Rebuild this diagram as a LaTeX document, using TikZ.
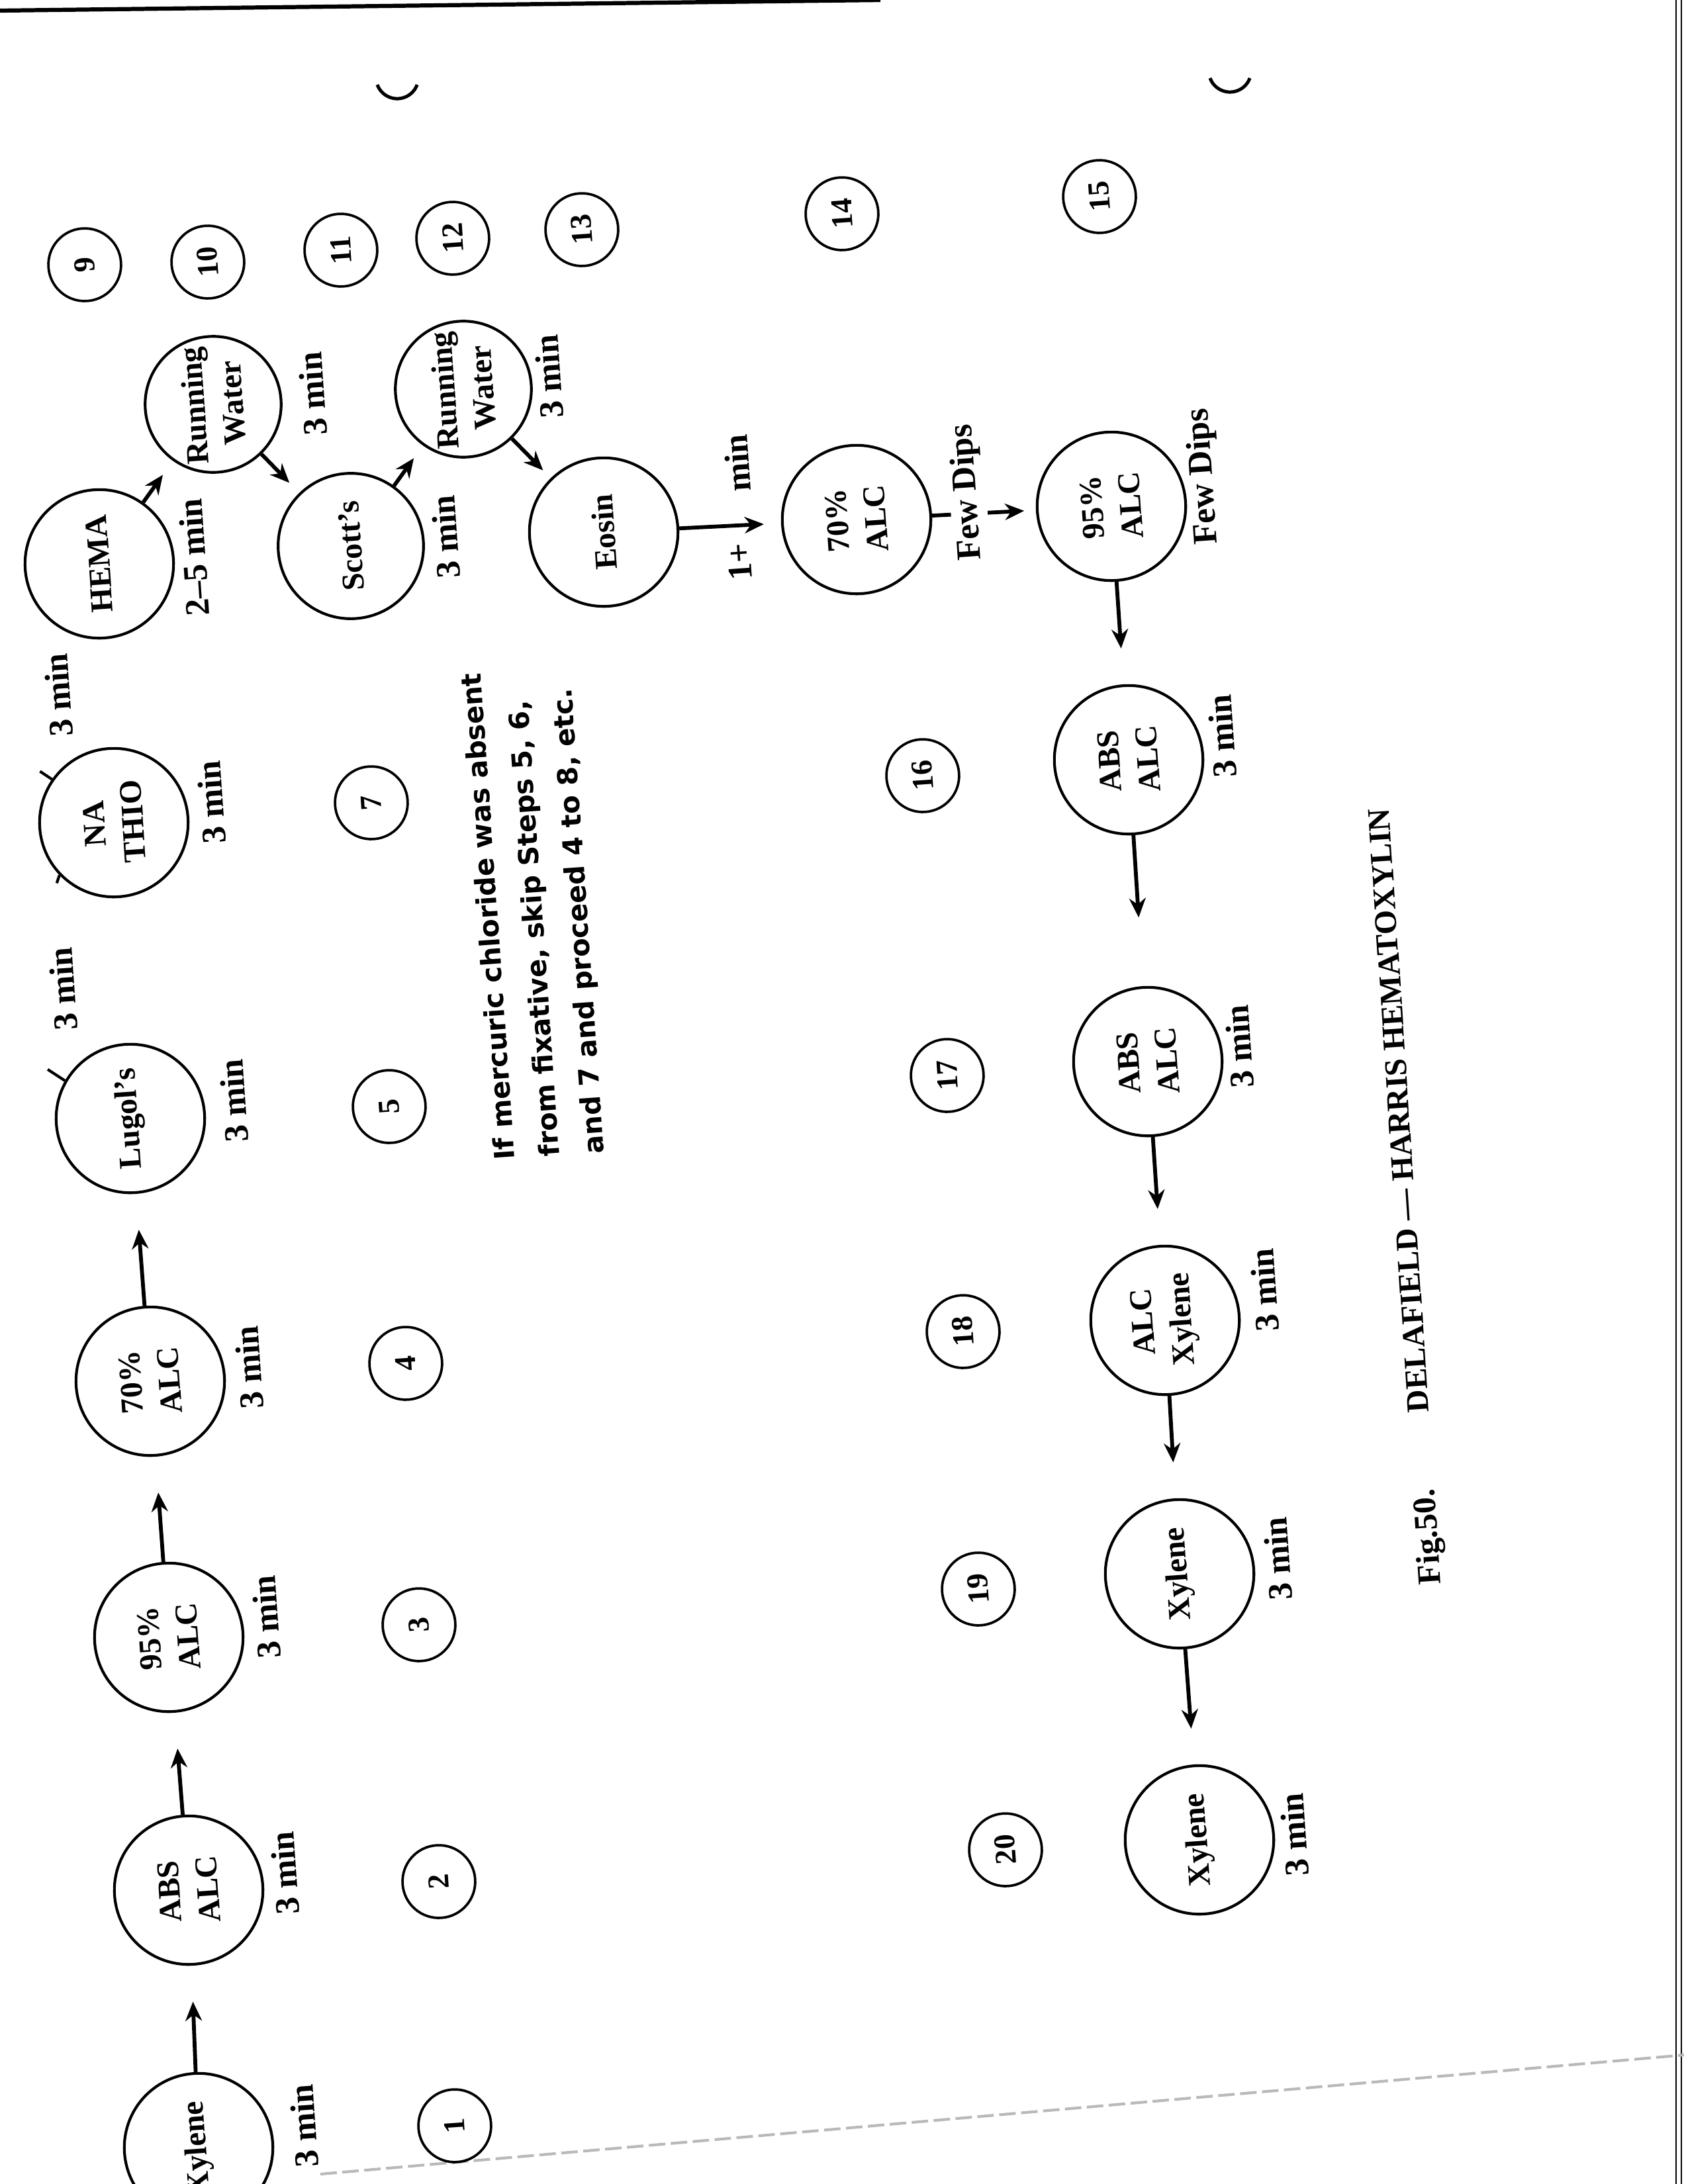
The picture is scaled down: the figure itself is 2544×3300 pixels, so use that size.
\documentclass[tikz,border=0pt]{standalone}
\usepackage{fontspec}
\setmainfont{Liberation Serif}
\newfontfamily\notefont{DejaVu Sans}
\usetikzlibrary{arrows.meta}

\begin{document}
\begin{tikzpicture}[x=0.0846667mm, y=-0.0846667mm,
    bath/.style={draw, circle, line width=1pt, minimum size=19mm, inner sep=0pt, align=center, rotate=94, font=\bfseries\fontsize{11.5}{14}\selectfont},
    stepnum/.style={draw, circle, line width=0.9pt, minimum size=9.3mm, inner sep=0pt, rotate=94, font=\bfseries\fontsize{11}{13}\selectfont},
    dur/.style={rotate=94, inner sep=1pt, font=\bfseries\fontsize{12.5}{15}\selectfont},
    flow/.style={-{Stealth[length=7pt, width=6pt]}, line width=1.4pt, shorten >=4.6mm}]
    \fill[white] (0,0) rectangle (2544,3300);
    \useasboundingbox (0,0) rectangle (2544,3300);

    % page edges of the scan
    \draw[line width=1.5pt] (0,16) -- (1330,0);
    \draw[line width=0.6pt] (2532,0) -- (2532,3300);
    \draw[line width=0.6pt] (2540,0) -- (2540,3300);
    \draw[gray!55, line width=1pt, dash pattern=on 6pt off 2pt] (484,3285) -- (2544,3105);
    \draw[line width=1.2pt] (570,128) arc[start angle=160, end angle=20, radius=32];
    \draw[line width=1.2pt] (1828,118) arc[start angle=160, end angle=20, radius=32];

    \node[bath] (xyl1) at (300,3245) {Xylene};
    \node[bath] (abs1) at (285,2856) {ABS\\ALC};
    \node[bath] (alc95a) at (255,2474) {95\%\\ALC};
    \node[bath] (alc70a) at (227,2087) {70\%\\ALC};
    \node[bath] (lugol) at (197,1690) {Lugol's};
    \node[bath] (nathio) at (172,1243) {NA\\THIO};
    \node[bath] (hema) at (150,852) {HEMA};
    \node[bath, minimum size=17.4mm] (water1) at (322,611) {Running\\Water};
    \node[bath, minimum size=18.6mm] (scott) at (530,825) {Scott's};
    \node[bath, minimum size=17.4mm] (water2) at (700,588) {Running\\Water};
    \node[bath] (eosin) at (912,804) {Eosin};
    \node[bath] (alc70b) at (1294,785) {70\%\\ALC};
    \node[bath] (alc95b) at (1679,765) {95\%\\ALC};
    \node[bath] (abs2) at (1705,1148) {ABS\\ALC};
    \node[bath] (abs3) at (1734,1604) {ABS\\ALC};
    \node[bath] (alcxyl) at (1760,1995) {ALC\\Xylene};
    \node[bath] (xyl2) at (1782,2378) {Xylene};
    \node[bath] (xyl3) at (1812,2780) {Xylene};

    \foreach \n/\x/\y in {1/687/3212, 2/663/2843, 3/633/2455, 4/613/2060, 5/588/1672, 7/561/1213,
        9/128/400, 10/314/396, 11/515/378, 12/684/360, 13/879/347, 14/1272/323, 15/1661/297,
        16/1394/1172, 17/1431/1625, 18/1455/2012, 19/1478/2401, 20/1519/2795}
        \node[stepnum] (s\n) at (\x,\y) {\n};

    \foreach \nm/\x/\y in {xyl1/459/3212, abs1/430/2830, alc95a/402/2443, alc70a/376/2066,
        lugol/353/1663, nathio/319/1212, water1/472/595, scott/673/811, water2/829/569,
        abs2/1846/1112, abs3/1872/1581, alcxyl/1910/1949, xyl2/1930/2355, xyl3/1955/2772,
        cutA/95/1494, cutB/88/1050}
        \node[dur] (t-\nm) at (\x,\y) {3 min};
    \node[dur] (t-hema) at (293,842) {2--5 min};

    \draw[flow] (xyl1) -- (abs1);
    \draw[flow] (abs1) -- (alc95a);
    \draw[flow] (alc95a) -- (alc70a);
    \draw[flow] (alc70a) -- (lugol);
    \draw[line width=1pt] (lugol.56) -- ++(-26,-17);
    \draw[line width=1pt] (nathio.51) -- ++(-18,-12);
    \draw[line width=1pt] (nathio.130) -- ++(-4,12);

    \draw[flow, shorten >=2.2mm] (hema) -- (water1);
    \draw[flow, shorten >=1.8mm] (water1) -- (scott);
    \draw[flow, shorten >=2mm] (scott) -- (water2);
    \draw[flow, shorten >=1.4mm] (water2) -- (eosin);
    \draw[flow, shorten >=2.2mm] (eosin) -- (alc70b);
    \node[dur] (t-eosinA) at (1117,849) {1+};
    \node[dur] (t-eosinB) at (1114,700) {min};
    \draw[flow, shorten >=1.5mm] (alc70b) -- (alc95b);
    \node[dur, fill=white] (dips1) at (1462,744) {Few Dips};
    \node[dur] (dips2) at (1819,720) {Few Dips};

    \draw[flow] (alc95b) -- (abs2);
    \draw[flow, shorten >=8.8mm] (abs2) -- (abs3);
    \draw[flow] (abs3) -- (alcxyl);
    \draw[flow] (alcxyl) -- (xyl2);
    \draw[flow] (xyl2) -- (xyl3);

    \node[rotate=94, align=left, inner sep=0pt, font=\notefont\bfseries\fontsize{10}{16.3}\selectfont] (note) at (808,1380)
        {If mercuric chloride was absent\\from fixative, skip Steps 5, 6,\\and 7 and proceed 4 to 8, etc.};

    \node[rotate=93.8, inner sep=0pt, font=\bfseries\fontsize{11.5}{14}\selectfont] (title) at (2113,1678) {DELAFIELD — HARRIS HEMATOXYLIN};
    \node[rotate=93.8, inner sep=0pt, font=\bfseries\fontsize{12}{14}\selectfont] (fignum) at (2160,2322) {Fig.50.};
\end{tikzpicture}
\end{document}
